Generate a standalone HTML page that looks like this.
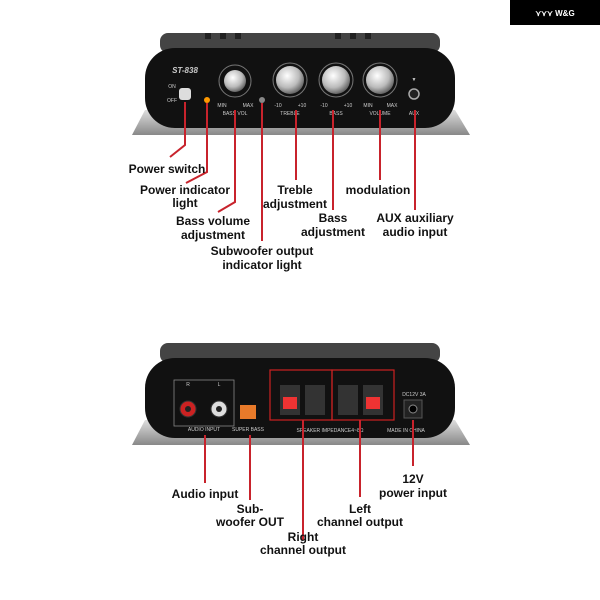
<!DOCTYPE html>
<html><head><meta charset="utf-8"><style>
body{margin:0;background:#fff;width:600px;height:600px;overflow:hidden}
svg{display:block}
text{font-family:"Liberation Sans",sans-serif}
.l{font-weight:bold;font-size:12px;fill:#111;text-anchor:middle}
.s{font-size:5px;fill:#ccc;text-anchor:middle}
.r{stroke:#c8232c;stroke-width:2;fill:none}
</style></head><body>
<svg width="600" height="600" viewBox="0 0 600 600">
<defs>
<radialGradient id="k" cx="40%" cy="35%" r="70%"><stop offset="0" stop-color="#fff"/><stop offset=".6" stop-color="#bbb"/><stop offset="1" stop-color="#555"/></radialGradient>
<linearGradient id="ft" x1="0" y1="0" x2="0" y2="1"><stop offset="0" stop-color="#ddd"/><stop offset="1" stop-color="#888"/></linearGradient>
</defs>
<rect x="510" y="0" width="90" height="25" fill="#000"/>
<text x="555" y="16" fill="#fff" font-size="8" font-weight="bold" text-anchor="middle">⋎⋎⋎ W&amp;G</text>

<!-- TOP DEVICE -->
<polygon points="132,135 145,110 455,110 470,135" fill="url(#ft)"/>
<rect x="160" y="33" width="280" height="20" rx="8" fill="#444"/>
<g fill="#222"><rect x="205" y="33" width="6" height="6"/><rect x="220" y="33" width="6" height="6"/><rect x="235" y="33" width="6" height="6"/><rect x="335" y="33" width="6" height="6"/><rect x="350" y="33" width="6" height="6"/><rect x="365" y="33" width="6" height="6"/></g>
<rect x="145" y="48" width="310" height="80" rx="30" fill="#111"/>
<text x="185" y="73" fill="#ccc" font-size="8" font-style="italic" font-weight="bold" text-anchor="middle">ST-838</text>
<text x="172" y="88" class="s">ON</text><text x="172" y="102" class="s">OFF</text>
<rect x="179" y="88" width="12" height="12" rx="3" fill="#ddd"/>
<circle cx="207" cy="100" r="3" fill="#f90"/>
<circle cx="262" cy="100" r="3" fill="#888"/>
<circle cx="235" cy="81" r="16" fill="none" stroke="#777" stroke-width="1"/><circle cx="235" cy="81" r="11" fill="url(#k)"/>
<circle cx="290" cy="80" r="17" fill="none" stroke="#777"/><circle cx="290" cy="80" r="14" fill="url(#k)"/>
<circle cx="336" cy="80" r="17" fill="none" stroke="#777"/><circle cx="336" cy="80" r="14" fill="url(#k)"/>
<circle cx="380" cy="80" r="17" fill="none" stroke="#777"/><circle cx="380" cy="80" r="14" fill="url(#k)"/>
<circle cx="414" cy="94" r="5" fill="#222" stroke="#aaa" stroke-width="1.5"/>
<text x="414" y="81" class="s" font-size="7">▼</text>
<text x="222" y="107" class="s">MIN</text><text x="248" y="107" class="s">MAX</text><text x="235" y="115" class="s">BASS VOL</text>
<text x="278" y="107" class="s">-10</text><text x="302" y="107" class="s">+10</text><text x="290" y="115" class="s">TREBLE</text>
<text x="324" y="107" class="s">-10</text><text x="348" y="107" class="s">+10</text><text x="336" y="115" class="s">BASS</text>
<text x="368" y="107" class="s">MIN</text><text x="392" y="107" class="s">MAX</text><text x="380" y="115" class="s">VOLUME</text>
<text x="414" y="115" class="s">AUX</text>

<path class="r" d="M185,102 V145 L170,157"/>
<path class="r" d="M207,103 V172 L186,183"/>
<path class="r" d="M235,110 V202 L218,212"/>
<path class="r" d="M262,103 V241"/>
<path class="r" d="M296,110 V180"/>
<path class="r" d="M333,110 V210"/>
<path class="r" d="M380,110 V180"/>
<path class="r" d="M415,110 V210"/>

<text class="l" x="167" y="173">Power switch</text>
<text class="l" x="185" y="194">Power indicator</text><text class="l" x="185" y="207">light</text>
<text class="l" x="213" y="225">Bass volume</text><text class="l" x="213" y="239">adjustment</text>
<text class="l" x="262" y="255">Subwoofer output</text><text class="l" x="262" y="269">indicator light</text>
<text class="l" x="295" y="194">Treble</text><text class="l" x="295" y="208">adjustment</text>
<text class="l" x="333" y="222">Bass</text><text class="l" x="333" y="236">adjustment</text>
<text class="l" x="378" y="194">modulation</text>
<text class="l" x="415" y="222">AUX auxiliary</text><text class="l" x="415" y="236">audio input</text>

<!-- BOTTOM DEVICE -->
<polygon points="132,445 145,420 455,420 470,445" fill="url(#ft)"/>
<rect x="160" y="343" width="280" height="20" rx="8" fill="#444"/>
<rect x="145" y="358" width="310" height="80" rx="30" fill="#111"/>
<rect x="174" y="380" width="60" height="46" fill="none" stroke="#888" stroke-width=".8"/>
<text x="188" y="386" class="s" font-size="8">R</text><text x="219" y="386" class="s" font-size="8">L</text>
<circle cx="188" cy="409" r="8" fill="#c22" stroke="#333"/><circle cx="188" cy="409" r="3" fill="#222"/>
<circle cx="219" cy="409" r="8" fill="#ddd" stroke="#333"/><circle cx="219" cy="409" r="3" fill="#222"/>
<text x="204" y="431" class="s">AUDIO INPUT</text>
<rect x="240" y="405" width="16" height="14" fill="#e87a2a"/>
<text x="248" y="431" class="s">SUPER BASS</text>
<rect x="270" y="370" width="62" height="50" fill="none" stroke="#c22" stroke-width="1.2"/>
<rect x="332" y="370" width="62" height="50" fill="none" stroke="#c22" stroke-width="1.2"/>
<rect x="280" y="385" width="20" height="30" fill="#333"/><rect x="283" y="397" width="14" height="12" fill="#e33"/>
<rect x="305" y="385" width="20" height="30" fill="#333"/>
<rect x="338" y="385" width="20" height="30" fill="#333"/>
<rect x="363" y="385" width="20" height="30" fill="#333"/><rect x="366" y="397" width="14" height="12" fill="#e33"/>
<text x="330" y="432" class="s">SPEAKER IMPEDANCE4~8Ω</text><text x="406" y="432" class="s">MADE IN CHINA</text>
<text x="414" y="396" class="s">DC12V 3A</text>
<rect x="404" y="400" width="18" height="18" fill="#222" stroke="#555"/><circle cx="413" cy="409" r="4" fill="#000" stroke="#888"/>

<path class="r" d="M205,435 V483"/>
<path class="r" d="M250,435 V500"/>
<path class="r" d="M303,420 V540"/>
<path class="r" d="M360,420 V497"/>
<path class="r" d="M413,420 V466"/>

<text class="l" x="205" y="498">Audio input</text>
<text class="l" x="250" y="513">Sub-</text><text class="l" x="250" y="526">woofer OUT</text>
<text class="l" x="303" y="541">Right</text><text class="l" x="303" y="554">channel output</text>
<text class="l" x="360" y="513">Left</text><text class="l" x="360" y="526">channel output</text>
<text class="l" x="413" y="483">12V</text><text class="l" x="413" y="497">power input</text>
</svg>
</body></html>
